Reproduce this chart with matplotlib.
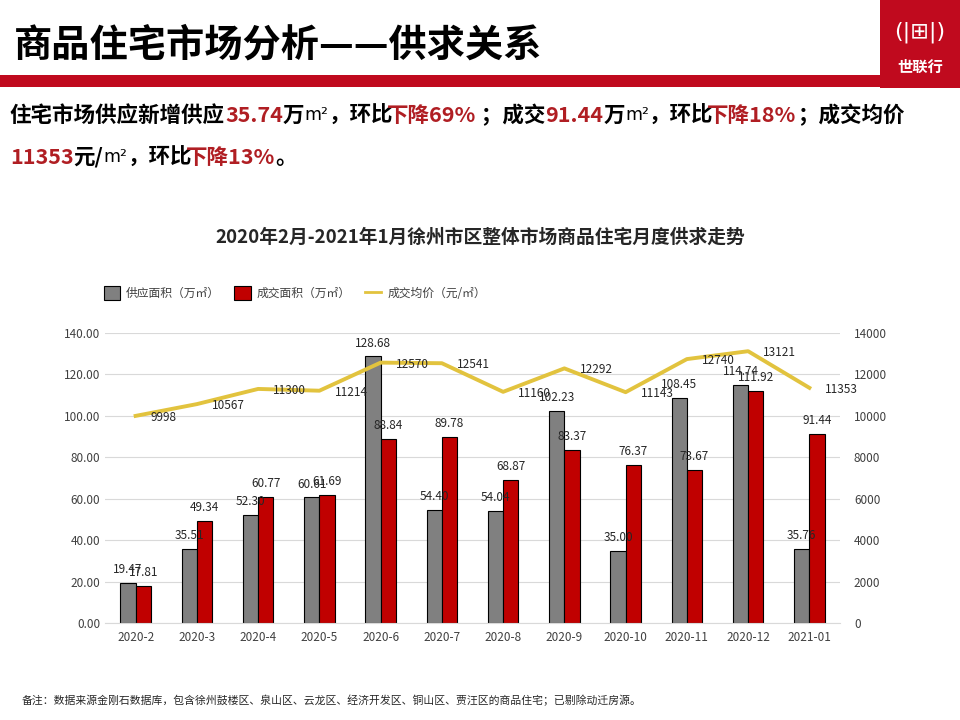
import matplotlib
matplotlib.use("Agg")
import matplotlib.pyplot as plt
import numpy as np
from matplotlib.patches import Rectangle, Patch
from matplotlib.lines import Line2D

plt.rcParams['font.family'] = ['Noto Sans CJK SC', 'DejaVu Sans']

months = ["2020-2", "2020-3", "2020-4", "2020-5", "2020-6", "2020-7", "2020-8",
          "2020-9", "2020-10", "2020-11", "2020-12", "2021-01"]
supply = [19.47, 35.51, 52.30, 60.61, 128.68, 54.40, 54.04, 102.23, 35.00, 108.45, 114.74, 35.76]
sales = [17.81, 49.34, 60.77, 61.69, 88.84, 89.78, 68.87, 83.37, 76.37, 73.67, 111.92, 91.44]
price = [9998, 10567, 11300, 11214, 12570, 12541, 11160, 12292, 11143, 12740, 13121, 11353]

GRAY = "#808080"
RED = "#C00000"
YELLOW = "#E2C33E"
DARKRED = "#B01E23"
BRAND = "#C00A1E"

fig = plt.figure(figsize=(9.6, 7.2), dpi=100)

# ---- header ----
fig.text(14/960, 1-45/720, "商品住宅市场分析——供求关系", fontsize=27.5, fontweight='bold',
         va='center', ha='left', color='black')
fig.add_artist(Rectangle((0, 1-87/720), 880/960, 12/720, transform=fig.transFigure,
                         facecolor=BRAND, edgecolor='none'))
fig.add_artist(Rectangle((880/960, 1-88/720), 80/960, 88/720, transform=fig.transFigure,
                         facecolor=BRAND, edgecolor='none'))
fig.text(920/960, 1-32/720, "(|⊞|)", fontsize=16, color='white', ha='center', va='center',
         family=['DejaVu Sans'])
fig.text(920/960, 1-67/720, "世联行", fontsize=11, color='white', ha='center', va='center',
         fontweight='bold')

# ---- colored summary text ----
def rich_line(x_px, y_px, parts, size=15.5):
    renderer = fig.canvas.get_renderer()
    x = x_px / 960
    for s, c in parts:
        if s == "㎡":
            t = fig.text(x, 1 - y_px/720, "m²", fontsize=size*0.8, color=c,
                         ha='left', va='center', family=['DejaVu Sans'])
        else:
            t = fig.text(x, 1 - y_px/720, s, fontsize=size, fontweight='bold', color=c,
                         ha='left', va='center')
        bb = t.get_window_extent(renderer=renderer)
        adv = bb.width
        if s[0] in "，；":
            adv -= 6
        x += adv / 960

rich_line(10, 115, [("住宅市场供应新增供应", "black"), ("35.74", DARKRED), ("万", "black"),
                    ("㎡", "black"), ("，环比", "black"),
                    ("下降69%", DARKRED), (" ；成交", "black"), ("91.44", DARKRED),
                    ("万", "black"), ("㎡", "black"), ("，环比", "black"),
                    ("下降18%", DARKRED), ("；成交均价", "black")])
rich_line(10, 157, [("11353", DARKRED), ("元/", "black"), ("㎡", "black"), ("，环比", "black"),
                    ("下降13%", DARKRED), ("。", "black")])

# ---- chart ----
ax = fig.add_axes([105/960, 1-623/720, 735/960, 290/720])
x = np.arange(len(months))
w = 0.25
ax.bar(x - w/2, supply, w, color=GRAY, edgecolor='black', linewidth=0.8, zorder=2)
ax.bar(x + w/2, sales, w, color=RED, edgecolor='black', linewidth=0.8, zorder=2)
ax.set_ylim(0, 140)
ax.set_yticks(np.arange(0, 141, 20))
ax.set_yticklabels([f"{v:.2f}" for v in np.arange(0, 141, 20)])
ax.set_xlim(-0.5, len(months) - 0.5)
ax.set_xticks(x)
ax.set_xticklabels(months)
ax.grid(axis='y', color='#D9D9D9', linewidth=0.8, zorder=0)
ax.tick_params(axis='both', length=0, labelsize=8.5, colors='#404040')
ax.tick_params(axis='x', pad=6)
for s in ['top', 'right', 'left']:
    ax.spines[s].set_visible(False)
ax.spines['bottom'].set_color('#D9D9D9')

for xi, v in zip(x - w/2, supply):
    ax.annotate(f"{v:.2f}", (xi, v), xytext=(0, 5), textcoords='offset points',
                ha='center', va='bottom', fontsize=8.5, color='#262626', zorder=5)
for xi, v in zip(x + w/2, sales):
    ax.annotate(f"{v:.2f}", (xi, v), xytext=(0, 5), textcoords='offset points',
                ha='center', va='bottom', fontsize=8.5, color='#262626', zorder=5)

ax2 = ax.twinx()
ax2.plot(x, price, color=YELLOW, linewidth=2.8, zorder=4)
ax2.set_ylim(0, 14000)
ax2.set_yticks(np.arange(0, 14001, 2000))
ax2.tick_params(axis='y', length=0, labelsize=8.5, colors='#404040', pad=10)
for s in ['top', 'right', 'left', 'bottom']:
    ax2.spines[s].set_visible(False)
for xi, v in zip(x, price):
    ax2.annotate(f"{v}", (xi, v), xytext=(11, -1), textcoords='offset points',
                 ha='left', va='center', fontsize=8.5, color='#262626', zorder=5)

fig.text(480/960, 1-237/720, "2020年2月-2021年1月徐州市区整体市场商品住宅月度供求走势",
         fontsize=13.5, fontweight='bold', ha='center', va='center', color='#262626')

handles = [Patch(facecolor=GRAY, edgecolor='black', linewidth=0.8),
           Patch(facecolor=RED, edgecolor='black', linewidth=0.8),
           Line2D([0], [0], color=YELLOW, linewidth=2)]
fig.legend(handles, ["供应面积（万㎡）", "成交面积（万㎡）", "成交均价（元/㎡）"],
           loc='center left', bbox_to_anchor=(93/960, 1-293/720), ncol=3, frameon=False,
           fontsize=8.5, handlelength=1.4, handleheight=1.4, columnspacing=1.2,
           handletextpad=0.5, labelcolor='#404040')

fig.text(22/960, 1-700/720,
         "备注：数据来源金刚石数据库，包含徐州鼓楼区、泉山区、云龙区、经济开发区、铜山区、贾汪区的商品住宅；已剔除动迁房源。",
         fontsize=7.8, ha='left', va='center', color='#262626')

fig.savefig("out.png", dpi=100)
